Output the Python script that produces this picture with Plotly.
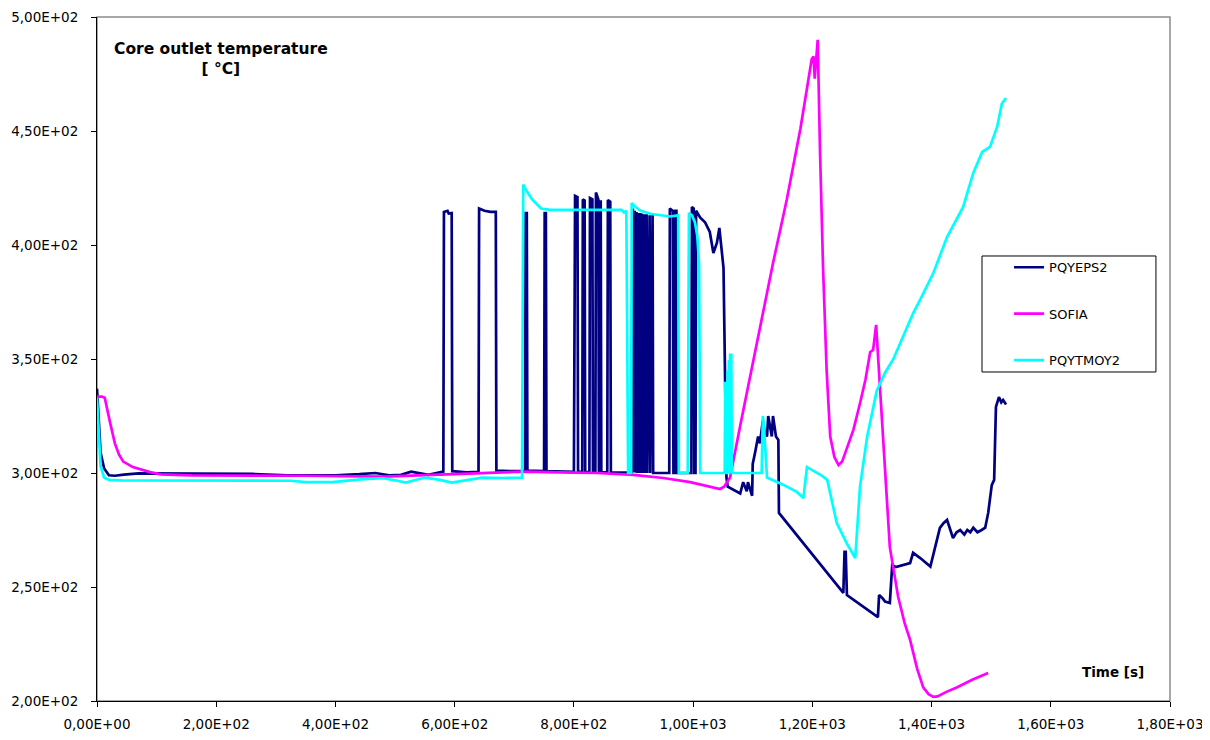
import plotly.graph_objects as go

# ---------------- data ----------------
t_pqyeps2 = [0, 3, 6, 12, 20, 30, 45, 70, 120, 200, 260, 320, 400, 440, 467, 490, 510, 527, 545, 556, 575, 581,
             582, 588, 590, 595, 596, 620, 640,
             641, 650, 660, 669, 670, 700, 718,
             719, 721, 722, 750,
             751, 753, 754, 800,
             802, 806, 807, 814, 815, 818, 819, 826, 827, 831, 832, 836, 837, 839, 841, 842, 843, 845, 846, 856,
             857, 861, 862, 896,
             898, 899, 900, 901, 902, 903, 904, 905, 906, 907, 908, 909, 910, 911, 912, 913, 914, 915,
             917, 918, 919, 921, 922, 923, 926, 927, 928, 931, 932, 933,
             960, 961, 966, 967, 969, 970, 972, 973, 997, 998, 1001, 1002, 1004,
             1005, 1012, 1020, 1028, 1034, 1040, 1044, 1048, 1051, 1056, 1058, 1079, 1084, 1090, 1092, 1099,
             1100, 1104, 1109, 1112, 1117, 1120, 1124, 1126, 1130, 1132, 1134, 1137, 1139, 1143, 1144,
             1252, 1254, 1256, 1258, 1310, 1312, 1318, 1322, 1330, 1334, 1340, 1364, 1369, 1381, 1398,
             1406, 1414, 1420, 1426, 1436, 1442, 1448, 1455, 1460, 1465, 1470, 1477, 1484, 1490, 1495,
             1501, 1505, 1508, 1513, 1517, 1520, 1525]
T_pqyeps2 = [337, 320, 309, 302, 299, 298.8, 299.3, 299.8, 299.7, 299.5, 299.6, 299, 299, 299.5, 300, 299, 299.2, 300.6, 299.8, 299.2, 300.3, 300.6,
             414.5, 415, 413.8, 414, 300.8, 300.3, 300.5,
             416, 415, 414.5, 414.5, 301, 300.8, 300.8,
             414, 414, 301, 300.8,
             414, 414, 300.8, 300.5,
             421.5, 421, 300.5, 300.5, 420, 419.5, 300.4, 300.4, 420.6, 420, 300.3, 300.3, 423, 421, 420, 300.3, 419, 419, 300.3, 300.3,
             419.7, 419, 300.2, 300.2,
             416, 416, 300.2, 415, 415, 300.2, 414.5, 414.5, 300, 414, 414, 300, 414, 414, 300, 413.8, 413.8, 300,
             413.5, 413.5, 300, 413.5, 413.5, 300, 413, 413, 300, 414, 414, 300,
             300, 416, 415, 300, 300, 415, 415, 300, 300, 416.7, 416, 300, 300,
             415, 412, 410, 405.7, 396.5, 401, 407.5, 397, 390, 298, 294, 291, 296, 292, 296, 290,
             304, 309, 316, 313, 323, 318, 316, 325, 318, 316, 325, 318, 316, 314.5, 282.5,
             247.4, 265.4, 265.4, 246.5, 236.8, 246.5, 245, 243.6, 243, 259.6, 258.8, 260.5, 265, 262.7, 259,
             267.5, 275.9, 278, 279.4, 271.5, 274, 275, 273, 275, 274, 276, 274, 275, 276, 282.5,
             294.7, 297, 329, 333.3, 331, 332, 330]

t_sofia = [0, 8, 13, 18, 22, 30, 37, 44, 60, 89, 107, 158, 250, 350, 480, 544, 600, 713, 800, 840, 900, 950,
           995, 1045, 1052, 1062, 1080, 1101, 1112, 1134, 1157, 1180, 1199, 1202, 1204, 1209, 1213, 1218,
           1224, 1230, 1237, 1244, 1250, 1269, 1280, 1289, 1297, 1302, 1307, 1314, 1322, 1330, 1344, 1355,
           1364, 1376, 1386, 1395, 1403, 1410, 1425, 1443, 1470, 1495]
T_sofia = [333.5, 333.5, 333, 326, 322, 313, 308, 305, 302.6, 300.4, 299.4, 299, 299, 298.8, 298.4, 299, 299.6, 300.6, 300.2, 300, 299.2, 297.8,
           296, 293, 294, 298, 322, 349.6, 364, 392, 419.7, 451, 481.6, 482.7, 473, 490, 440, 390,
           345, 316, 307, 303.5, 305, 319, 330.6, 340.8, 353, 354, 365, 336, 300, 267.5, 245.6, 234,
           226.8, 214, 206, 203, 201.8, 202, 204, 206, 209.5, 212.3]

t_pqytmoy2 = [0, 3, 6, 12, 20, 40, 100, 200, 325, 350, 395, 447, 480, 500, 518, 550, 575, 595, 620, 646, 680, 713,
              715, 720, 730, 745, 760, 800, 850, 880, 884, 888, 891, 896,
              897, 902, 912, 930, 961, 975, 976, 991, 993, 998, 1003, 1007, 1010, 1012,
              1053, 1054, 1055, 1057, 1058, 1059, 1060, 1061, 1062, 1064, 1065, 1115, 1117, 1119, 1124, 1150,
              1174, 1185, 1191, 1200, 1215, 1225, 1230, 1241, 1258, 1272, 1280, 1292, 1308, 1322, 1336,
              1359, 1369, 1381, 1398, 1403, 1426, 1453, 1470, 1485, 1498, 1510, 1518, 1525]
T_pqytmoy2 = [333, 315, 303, 298, 297, 296.8, 296.8, 296.8, 296.6, 296, 296, 297.3, 297.7, 296.8, 295.8, 298, 297, 295.8, 297, 298, 297.8, 298,
              426.5, 424, 420, 416, 415.4, 415.4, 415.4, 415.4, 414.3, 415, 300, 300,
              418.4, 417, 415, 413.6, 412.5, 413, 300, 300, 414, 413, 410, 404, 392, 300,
              300, 340, 300, 300, 345, 300, 349.6, 300, 351.8, 351.8, 300, 300, 325, 320, 298, 295,
              291.7, 289, 302.6, 301.3, 299, 297, 291, 278, 269, 262.7, 294, 316, 336, 344, 350,
              364, 370, 376, 384.7, 387.7, 403.5, 416.7, 431.6, 440.8, 443, 451.8, 462, 464.5]

x_tickvals = [0, 200, 400, 600, 800, 1000, 1200, 1400, 1600, 1800]
x_ticktext = ["0,00E+00", "2,00E+02", "4,00E+02", "6,00E+02", "8,00E+02",
              "1,00E+03", "1,20E+03", "1,40E+03", "1,60E+03", "1,80E+03"]
y_tickvals = [200, 250, 300, 350, 400, 450, 500]
y_ticktext = ["2,00E+02", "2,50E+02", "3,00E+02", "3,50E+02", "4,00E+02", "4,50E+02", "5,00E+02"]

FONT = "DejaVu Sans"

fig = go.Figure()
fig.add_trace(go.Scatter(x=t_pqyeps2, y=T_pqyeps2, mode="lines", name="PQYEPS2",
                         legendgroup="a", line=dict(color="#000080", width=2.7)))
fig.add_trace(go.Scatter(x=t_sofia, y=T_sofia, mode="lines", name="SOFIA",
                         legendgroup="b", line=dict(color="#FF00FF", width=2.7)))
fig.add_trace(go.Scatter(x=t_pqytmoy2, y=T_pqytmoy2, mode="lines", name="PQYTMOY2",
                         legendgroup="c", line=dict(color="#00FFFF", width=2.7)))

fig.update_layout(
    width=1210, height=740,
    margin=dict(l=89, r=48, t=9, b=47),
    paper_bgcolor="white", plot_bgcolor="white",
    font=dict(family=FONT, size=13, color="black"),
    showlegend=True,
    legend=dict(x=0.850, y=0.656, xanchor="left", yanchor="top",
                bgcolor="rgba(0,0,0,0)", borderwidth=0,
                tracegroupgap=26.5, font=dict(family=FONT, size=13, color="black"),
                itemwidth=30),
    xaxis=dict(range=[0, 1800], tickvals=x_tickvals, ticktext=x_ticktext,
               showgrid=False, zeroline=False, showline=True, linecolor="black", linewidth=1,
               ticks="outside", ticklen=5, tickcolor="black", tickfont=dict(size=13.5),
               ticklabelstandoff=6, automargin=False),
    yaxis=dict(range=[200, 500], tickvals=y_tickvals, ticktext=y_ticktext,
               showgrid=False, zeroline=False, showline=True, linecolor="black", linewidth=1,
               ticks="outside", ticklen=5, tickcolor="black", tickfont=dict(size=13.5),
               ticklabelstandoff=10, automargin=False),
    shapes=[
        dict(type="rect", xref="paper", yref="paper", x0=0, x1=1, y0=0, y1=1,
             line=dict(color="#8c8c8c", width=1.5), layer="below"),
        dict(type="rect", xref="paper", yref="paper", x0=0.8248, x1=0.9869, y0=0.481, y1=0.6506,
             line=dict(color="black", width=1), fillcolor="white", layer="below"),
    ],
    annotations=[
        dict(text="<b>Core outlet temperature</b><br><b>[ °C]</b>", xref="paper", yref="paper",
             x=0.116, y=0.969, xanchor="center", yanchor="top", align="center", showarrow=False,
             font=dict(family=FONT, size=15.5, color="black")),
        dict(text="<b>Time [s]</b>", xref="paper", yref="paper",
             x=0.947, y=0.0424, xanchor="center", yanchor="middle", showarrow=False,
             font=dict(family=FONT, size=13.5, color="black")),
    ],
)

fig.write_html("out.html")
